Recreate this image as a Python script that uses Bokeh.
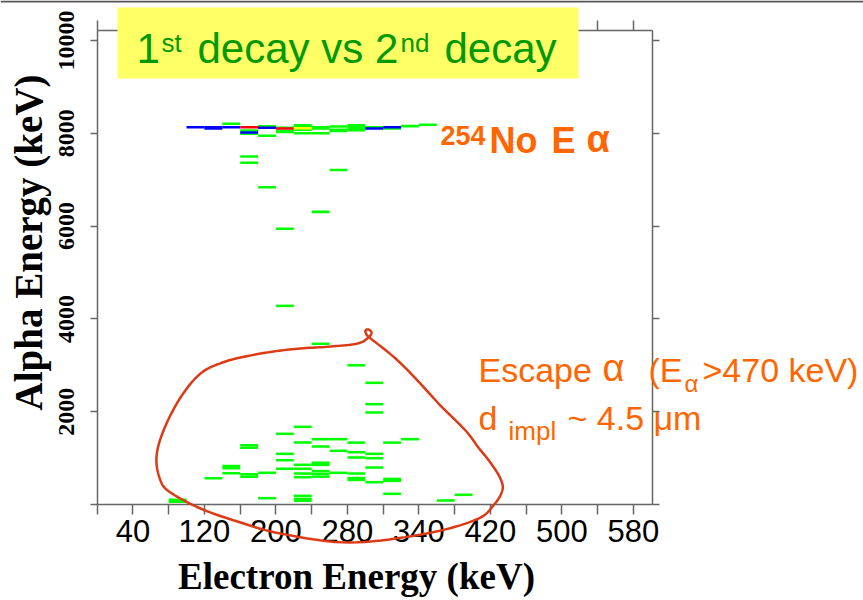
import numpy as np
from bokeh.plotting import figure
from bokeh.models import Range1d, FixedTicker, LinearAxis, ColumnDataSource, Span
from bokeh.core.properties import value
from bokeh.embed import file_html
from bokeh.resources import INLINE

# ---------------- data (2D histogram cells: electron-energy bin start, alpha energy, counts)
upper_e = [100, 120, 120, 140, 140, 160, 160, 160, 160, 180, 180, 180, 200, 200, 200, 200,
           220, 220, 220, 220, 220, 240, 240, 240, 260, 260, 260, 280, 280, 280, 280,
           300, 300, 320, 320, 340, 360]
upper_a = [8132, 8132, 8103, 8204, 8132, 8132, 8060, 8017, 7989, 8150, 8118, 7946, 8118, 8103, 8053, 8030,
           8175, 8147, 8110, 8075, 8003, 8132, 8103, 8003, 8147, 8075, 8050, 8175, 8140, 8100, 8065,
           8132, 8103, 8132, 8103, 8155, 8185]
upper_n = [2, 2, 2, 1, 2, 3, 1, 2, 1, 1, 2, 1, 1, 3, 1, 1,
           1, 1, 4, 1, 1, 1, 1, 1, 1, 1, 1, 1, 1, 1, 1,
           1, 2, 2, 1, 1, 1]

mid_e = [160, 160, 260, 180, 240, 200, 200, 240, 280, 300, 300, 300]
mid_a = [7500, 7364, 7210, 6838, 6307, 5941, 4281, 3463, 3000, 2622, 2162, 1983]
mid_n = [1] * len(mid_e)

low_e = [220, 200, 240, 260, 220, 280, 320, 340,
         160, 160, 240, 260, 280, 300, 200,
         200, 280, 300,
         140, 140, 220, 240, 240, 300, 200, 220,
         180, 140, 220, 240, 240, 240, 260, 280,
         160, 160, 220, 120, 280, 280, 300, 320, 320,
         320, 400, 380, 180, 220, 220, 220, 80, 80]
low_a = [1674, 1523, 1408, 1408, 1336, 1334, 1334, 1408,
         1275, 1225, 1250, 1157, 1127, 1092, 1092,
         955, 1013, 998,
         830, 780, 855, 900, 855, 797, 769, 769,
         683, 675, 668, 720, 660, 600, 683, 668,
         650, 600, 589, 567, 570, 530, 481, 550, 510,
         230, 209, 86, 136, 187, 120, 80, 100, 60]
low_n = [1] * len(low_e)

x_tick_values = [0, 40, 80, 120, 160, 200, 240, 280, 320, 360, 400, 440, 480, 520, 560, 600]
x_tick_labels = ["", "40", "", "120", "", "200", "", "280", "", "340", "", "420", "", "500", "", "580"]
y_tick_values = [0, 2000, 4000, 6000, 8000, 10000]
y_tick_labels = ["", "2000", "4000", "6000", "8000", "10000"]

# hand-drawn "escape alpha" loop (annotation), in data units
loop_x = [305.8, 301.3, 300.2, 303.5, 306.9, 303.5, 291.2, 261.0, 227.4, 197.2, 165.9, 140.2,
          115.6, 93.2, 74.2, 66.3, 70.8, 82.0, 115.6, 156.9, 205.0, 282.3, 368.4, 424.3,
          443.3, 453.3, 451.1, 439.9, 426.5, 412.1, 384.1, 358.4, 333.8]
loop_y = [3582, 3667, 3750, 3772, 3707, 3599, 3470, 3405, 3362, 3297, 3190, 3060,
          2823, 2306, 1595, 1013, 517, 259, -86, -366, -625, -819, -625, -323,
          -22, 302, 560, 905, 1228, 1595, 2133, 2672, 3146]

palette = {1: "#00FF00", 2: "#0000FF", 3: "#FF0000", 4: "#FFFF00"}

# ---------------- layout calibration (screen px)
W, H = 863, 600
AX_L, AX_R, AX_T, AX_B = 96.7, 652.0, 30.0, 504.0
KX = 35.75 / 40.0
KY = 92.8 / 2000.0
BASE_SHIFT = 0.37  # em offset correction for alphabetic baseline placement


def dx(px):
    return (px - AX_L) / KX


def dy(py):
    return (AX_B - py) / KY


p = figure(width=W, height=H, x_range=Range1d(dx(0), dx(W)), y_range=Range1d(dy(H), dy(0)),
           output_backend="svg", toolbar_location=None, min_border=0,
           x_axis_location=None, y_axis_location=None, title=None)
p.outline_line_color = None
p.background_fill_color = "white"
p.border_fill_color = "white"
p.grid.visible = False

# slide edge line at the top
p.add_layout(Span(location=dy(1), dimension="width", line_color="#555555", line_width=2))

AXC = "#666666"
xt = FixedTicker(ticks=x_tick_values, minor_ticks=[])
yt = FixedTicker(ticks=y_tick_values, minor_ticks=[])
xo = {v: t for v, t in zip(x_tick_values, x_tick_labels)}
yo = {v: t for v, t in zip(y_tick_values, y_tick_labels)}


def style_axis(ax, tick_out):
    ax.axis_line_color = AXC
    ax.axis_line_width = 1.5
    ax.major_tick_line_color = AXC
    ax.major_tick_line_width = 1.5
    ax.major_tick_in = 0
    ax.major_tick_out = tick_out
    ax.minor_tick_line_color = None


bottom = LinearAxis(ticker=xt, major_label_overrides=xo, fixed_location=0, bounds=(0, dx(AX_R)))
style_axis(bottom, 10)
bottom.major_label_text_font = "Liberation Sans"
bottom.major_label_text_font_size = "31px"
bottom.major_label_text_color = "black"
bottom.major_label_standoff = 5
p.add_layout(bottom, "below")

top = LinearAxis(ticker=xt, fixed_location=dy(AX_T), bounds=(0, dx(AX_R)))
style_axis(top, 10)
top.major_label_text_color = None
p.add_layout(top, "above")

left = LinearAxis(ticker=yt, major_label_overrides=yo, fixed_location=0, bounds=(0, dy(AX_T)))
style_axis(left, 7)
left.major_label_text_font = "Liberation Serif"
left.major_label_text_font_style = "bold"
left.major_label_text_font_size = "24px"
left.major_label_text_color = "black"
left.major_label_orientation = "vertical"
left.major_label_standoff = 16
p.add_layout(left, "left")

right = LinearAxis(ticker=yt, fixed_location=dx(AX_R), bounds=(0, dy(AX_T)))
style_axis(right, 7)
right.major_label_text_color = None
p.add_layout(right, "right")

# ---------------- histogram cells
e_all = upper_e + mid_e + low_e
a_all = upper_a + mid_a + low_a
n_all = upper_n + mid_n + low_n
order = np.argsort(n_all, kind="stable")
src = ColumnDataSource(dict(
    x=[e_all[i] + 10 for i in order],
    y=[a_all[i] for i in order],
    c=[palette[n_all[i]] for i in order],
))
p.rect(x="x", y="y", width=20, height=55, source=src, fill_color="c", line_color=None)


# ---------------- loop annotation (smooth closed curve through the drawn points)
def closed_spline(xs, ys, n=10):
    P = np.column_stack([xs, ys]).astype(float)
    N = len(P)
    out = []
    for i in range(N):
        p0, p1, p2, p3 = P[(i - 1) % N], P[i], P[(i + 1) % N], P[(i + 2) % N]
        for t in np.linspace(0, 1, n, endpoint=False):
            out.append(0.5 * (2 * p1 + (-p0 + p2) * t + (2 * p0 - 5 * p1 + 4 * p2 - p3) * t * t
                              + (-p0 + 3 * p1 - 3 * p2 + p3) * t ** 3))
    out.append(out[0])
    out = np.array(out)
    return out[:, 0], out[:, 1]


cx, cy = closed_spline(loop_x, loop_y)
p.line(cx, cy, line_color="#DC3A14", line_width=2.5, level="overlay")


# ---------------- texts
def put(txt, px, py, size, color, font, style="normal", angle=0.0, align="left", baseline="alphabetic"):
    if baseline == "alphabetic":
        py = py - BASE_SHIFT * size
    p.text(x=[dx(px)], y=[dy(py)], text=[txt], text_font=value(font), text_font_size=f"{size}px",
           text_font_style=style, text_color=color, text_align=align, text_baseline=baseline,
           angle=angle, level="overlay")


# title box
p.quad(left=[dx(117)], right=[dx(578)], top=[dy(7)], bottom=[dy(78)],
       fill_color="#FFFF66", line_color=None, level="overlay")
GREEN = "#009900"
SANS = "Liberation Sans"
put("1", 136, 64, 42, GREEN, SANS)
put("st", 161, 52, 26, GREEN, SANS)
put("decay vs 2", 197, 64, 42, GREEN, SANS)
put("nd", 400, 52, 26, GREEN, SANS)
put("decay", 444, 64, 42, GREEN, SANS)

ORANGE = "#FF6600"
put("254", 440, 145, 27, ORANGE, SANS, "bold")
put("No", 489, 153, 36, ORANGE, SANS, "bold")
put("E", 551, 153, 36, ORANGE, SANS, "bold")
put("α", 586, 153, 38, ORANGE, SANS, "bold")

put("Escape", 478, 382, 34, ORANGE, SANS)
put("α", 602, 382, 38, ORANGE, SANS)
put("(E", 648, 382, 34, ORANGE, SANS)
put("α", 684, 392, 24, ORANGE, SANS)
put(">470 keV)", 702, 382, 34, ORANGE, SANS)
put("d", 478, 430, 34, ORANGE, SANS)
put("impl", 508, 440, 26, ORANGE, SANS)
put("~ 4.5 μm", 567, 430, 34, ORANGE, SANS)

# axis titles
put("Electron Energy (keV)", 356, 590, 37, "black", "Liberation Serif", "bold", align="center")
put("Alpha Energy (keV)", 28, 242, 39, "black", "Liberation Serif", "bold", angle=np.pi / 2,
    align="center", baseline="middle")

open("out.html", "w").write(file_html(p, INLINE))
